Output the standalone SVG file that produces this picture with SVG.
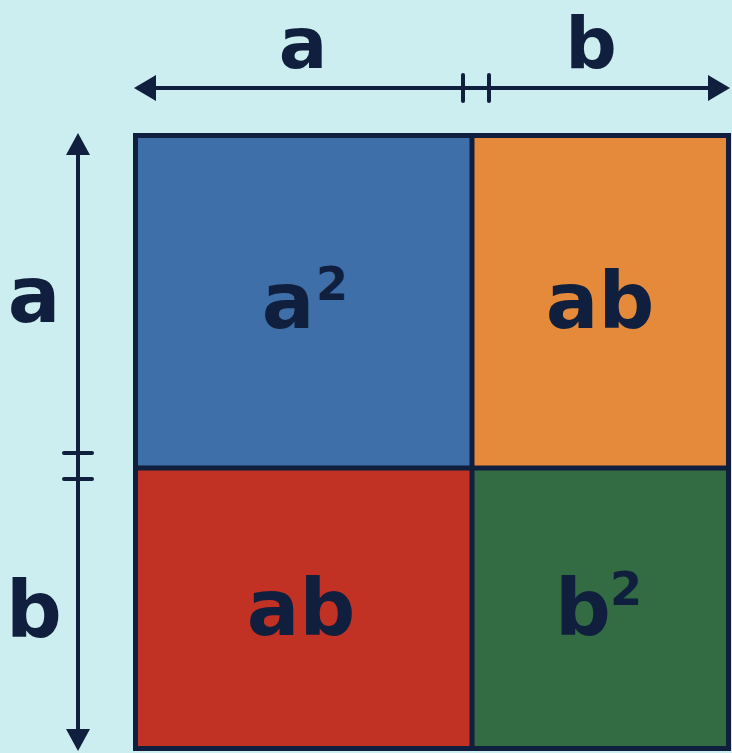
<svg xmlns="http://www.w3.org/2000/svg" width="732" height="753" viewBox="0 0 732 753">
<style>
.lbl{font-family:"DejaVu Sans","Liberation Sans",sans-serif;font-weight:700;font-size:78px;fill:#0f1f3d;text-anchor:middle}
.top{font-size:72px}
.sup{font-family:"DejaVu Sans","Liberation Sans",sans-serif;font-weight:700;font-size:46px;fill:#0f1f3d;text-anchor:middle}
.ln{stroke:#0f1f3d;stroke-width:4;fill:none}
.tk{stroke:#0f1f3d;stroke-width:4;stroke-linecap:round}
.ah{fill:#0f1f3d}
</style>
<rect width="732" height="753" fill="#cdeef0"/>
<g id="square">
<rect id="a2" x="135" y="135" width="337" height="333" fill="#3e6fa8"/>
<rect id="ab1" x="472" y="135" width="257" height="333" fill="#e5893a"/>
<rect id="ab2" x="135" y="468" width="337" height="281" fill="#c23224"/>
<rect id="b2" x="472" y="468" width="257" height="281" fill="#336b43"/>
<rect x="135.5" y="135.5" width="593" height="613" fill="none" stroke="#0f1f3d" stroke-width="5"/>
<line x1="472" y1="135" x2="472" y2="749" stroke="#0f1f3d" stroke-width="5"/>
<line x1="135" y1="468" x2="729" y2="468" stroke="#0f1f3d" stroke-width="5"/>
</g>
<g id="connectors">
<line class="ln" x1="152" y1="88" x2="712" y2="88"/>
<polygon class="ah" points="134,88 156,75 156,101"/>
<polygon class="ah" points="730,88 708,75 708,101"/>
<line class="tk" x1="463" y1="75" x2="463" y2="101"/>
<line class="tk" x1="489" y1="75" x2="489" y2="101"/>
<line class="ln" x1="78" y1="150" x2="78" y2="734"/>
<polygon class="ah" points="78,133 66,155 90,155"/>
<polygon class="ah" points="78,751 66,729 90,729"/>
<line class="tk" x1="64" y1="453" x2="92" y2="453"/>
<line class="tk" x1="64" y1="479" x2="92" y2="479"/>
</g>
<g id="labels">
<text class="lbl top" x="303" y="68">a</text>
<text class="lbl top" x="591" y="68">b</text>
<text class="lbl" x="34" y="322">a</text>
<text class="lbl" x="34" y="637">b</text>
</g>
<g id="cell-a2"><text class="lbl" x="288" y="328">a</text><text class="sup" x="332" y="300">2</text></g>
<g id="cell-ab1"><text class="lbl" x="600" y="328">ab</text></g>
<g id="cell-ab2"><text class="lbl" x="301" y="635">ab</text></g>
<g id="cell-b2"><text class="lbl" x="583" y="635">b</text><text class="sup" x="626" y="605">2</text></g>
</svg>
